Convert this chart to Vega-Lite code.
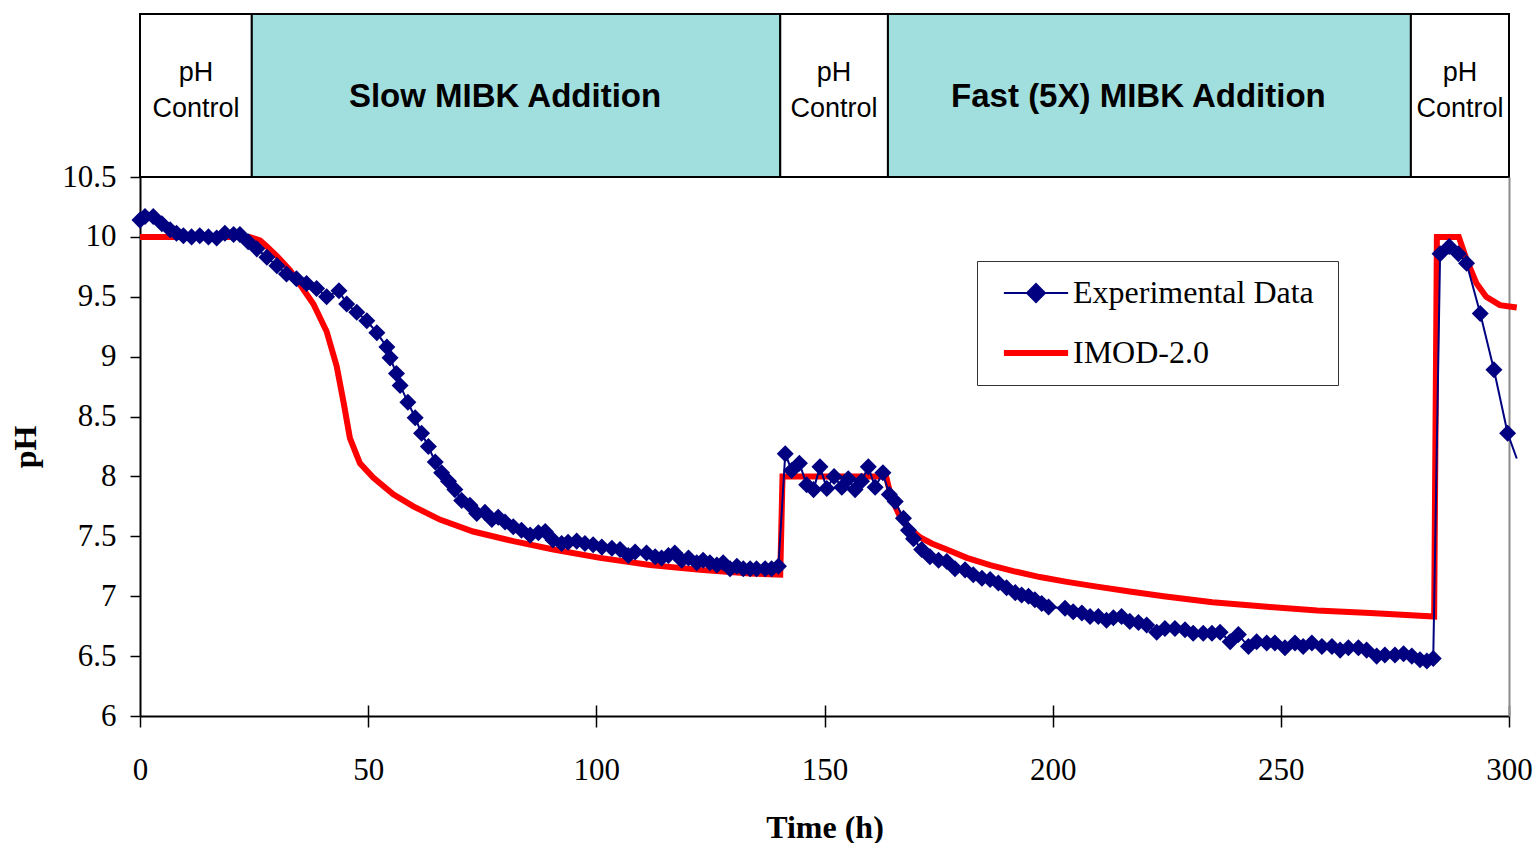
{
  "$schema": "https://vega.github.io/schema/vega-lite/v6.json",
  "background": "white",
  "autosize": {"type": "pad"},
  "padding": {"left": 9, "top": 13, "right": 0, "bottom": 0},
  "spacing": 0,
  "bounds": "flush",
  "config": {"view": {"stroke": null}},
  "resolve": {"scale": {"color": "independent", "fill": "independent"}, "legend": {"color": "independent", "fill": "independent"}},
  "vconcat": [
    {
      "width": 1369,
      "height": 163,
      "data": {"values": [
        {"label": "pH\nControl", "start": 0, "end": 24.5, "kind": "control"},
        {"label": "Slow MIBK Addition", "start": 24.5, "end": 140.3, "kind": "addition"},
        {"label": "pH\nControl", "start": 140.3, "end": 163.9, "kind": "control"},
        {"label": "Fast (5X) MIBK Addition", "start": 163.9, "end": 278.5, "kind": "addition"},
        {"label": "pH\nControl", "start": 278.5, "end": 300, "kind": "control"}
      ]},
      "transform": [{"calculate": "(datum.start + datum.end) / 2", "as": "mid"}],
      "layer": [
        {
          "mark": {"type": "rect", "stroke": "black", "strokeWidth": 2},
          "encoding": {
            "x": {"field": "start", "type": "quantitative", "scale": {"domain": [0, 300]}, "axis": null},
            "x2": {"field": "end"},
            "fill": {"field": "kind", "type": "nominal", "scale": {"domain": ["control", "addition"], "range": ["#ffffff", "#a1dfdf"]}, "legend": null}
          }
        },
        {
          "transform": [{"filter": "datum.kind === 'control'"}],
          "mark": {"type": "text", "font": "Liberation Sans", "fontSize": 27, "lineBreak": "\n", "lineHeight": 36, "dy": -23, "color": "black"},
          "encoding": {
            "x": {"field": "mid", "type": "quantitative", "scale": {"domain": [0, 300]}, "axis": null},
            "text": {"field": "label"}
          }
        },
        {
          "transform": [{"filter": "datum.kind === 'addition'"}],
          "mark": {"type": "text", "font": "Liberation Sans", "fontSize": 33, "fontWeight": "bold", "dx": -11, "dy": 1, "color": "black"},
          "encoding": {
            "x": {"field": "mid", "type": "quantitative", "scale": {"domain": [0, 300]}, "axis": null},
            "text": {"field": "label"}
          }
        }
      ]
    },
    {
      "width": 1369,
      "height": 539,
      "data": {"values": [
        {"series": "IMOD-2.0", "t": 0, "pH": 10.0},
        {"series": "IMOD-2.0", "t": 24, "pH": 10.0},
        {"series": "IMOD-2.0", "t": 26.3, "pH": 9.97},
        {"series": "IMOD-2.0", "t": 27.5, "pH": 9.93},
        {"series": "IMOD-2.0", "t": 30, "pH": 9.84},
        {"series": "IMOD-2.0", "t": 32.9, "pH": 9.72},
        {"series": "IMOD-2.0", "t": 35.1, "pH": 9.6},
        {"series": "IMOD-2.0", "t": 38, "pH": 9.44},
        {"series": "IMOD-2.0", "t": 40.9, "pH": 9.21},
        {"series": "IMOD-2.0", "t": 43.1, "pH": 8.92},
        {"series": "IMOD-2.0", "t": 44.6, "pH": 8.62},
        {"series": "IMOD-2.0", "t": 46, "pH": 8.32},
        {"series": "IMOD-2.0", "t": 48.2, "pH": 8.11},
        {"series": "IMOD-2.0", "t": 51.1, "pH": 7.99},
        {"series": "IMOD-2.0", "t": 55.5, "pH": 7.85},
        {"series": "IMOD-2.0", "t": 59.9, "pH": 7.75},
        {"series": "IMOD-2.0", "t": 65.7, "pH": 7.64},
        {"series": "IMOD-2.0", "t": 73, "pH": 7.54},
        {"series": "IMOD-2.0", "t": 81.8, "pH": 7.46},
        {"series": "IMOD-2.0", "t": 90.6, "pH": 7.39},
        {"series": "IMOD-2.0", "t": 100.8, "pH": 7.32},
        {"series": "IMOD-2.0", "t": 111.8, "pH": 7.26},
        {"series": "IMOD-2.0", "t": 122.7, "pH": 7.22},
        {"series": "IMOD-2.0", "t": 133.7, "pH": 7.19},
        {"series": "IMOD-2.0", "t": 140.3, "pH": 7.18},
        {"series": "IMOD-2.0", "t": 140.8, "pH": 8.0},
        {"series": "IMOD-2.0", "t": 163.5, "pH": 8.0},
        {"series": "IMOD-2.0", "t": 164.4, "pH": 7.86},
        {"series": "IMOD-2.0", "t": 165.5, "pH": 7.75},
        {"series": "IMOD-2.0", "t": 166.6, "pH": 7.66},
        {"series": "IMOD-2.0", "t": 168.8, "pH": 7.56},
        {"series": "IMOD-2.0", "t": 171, "pH": 7.49},
        {"series": "IMOD-2.0", "t": 173.5, "pH": 7.44},
        {"series": "IMOD-2.0", "t": 176.8, "pH": 7.39},
        {"series": "IMOD-2.0", "t": 181.2, "pH": 7.32},
        {"series": "IMOD-2.0", "t": 186.3, "pH": 7.26},
        {"series": "IMOD-2.0", "t": 191.4, "pH": 7.21},
        {"series": "IMOD-2.0", "t": 197.2, "pH": 7.16},
        {"series": "IMOD-2.0", "t": 203.1, "pH": 7.12},
        {"series": "IMOD-2.0", "t": 209.7, "pH": 7.08},
        {"series": "IMOD-2.0", "t": 216.9, "pH": 7.04},
        {"series": "IMOD-2.0", "t": 224.3, "pH": 7.0},
        {"series": "IMOD-2.0", "t": 235, "pH": 6.95},
        {"series": "IMOD-2.0", "t": 247.6, "pH": 6.91},
        {"series": "IMOD-2.0", "t": 258, "pH": 6.88},
        {"series": "IMOD-2.0", "t": 269.6, "pH": 6.86},
        {"series": "IMOD-2.0", "t": 283.6, "pH": 6.83},
        {"series": "IMOD-2.0", "t": 284.2, "pH": 10.0},
        {"series": "IMOD-2.0", "t": 289, "pH": 10.0},
        {"series": "IMOD-2.0", "t": 290.7, "pH": 9.81},
        {"series": "IMOD-2.0", "t": 292.9, "pH": 9.61},
        {"series": "IMOD-2.0", "t": 295, "pH": 9.5},
        {"series": "IMOD-2.0", "t": 298, "pH": 9.43},
        {"series": "IMOD-2.0", "t": 301.7, "pH": 9.41},
        {"series": "Experimental Data", "t": 0, "pH": 10.14},
        {"series": "Experimental Data", "t": 1.1, "pH": 10.17},
        {"series": "Experimental Data", "t": 2.9, "pH": 10.17},
        {"series": "Experimental Data", "t": 4.8, "pH": 10.11},
        {"series": "Experimental Data", "t": 6.6, "pH": 10.06},
        {"series": "Experimental Data", "t": 8.0, "pH": 10.03},
        {"series": "Experimental Data", "t": 9.5, "pH": 10.01},
        {"series": "Experimental Data", "t": 11.3, "pH": 10.0},
        {"series": "Experimental Data", "t": 13.1, "pH": 10.01},
        {"series": "Experimental Data", "t": 15.0, "pH": 10.0},
        {"series": "Experimental Data", "t": 16.8, "pH": 9.99},
        {"series": "Experimental Data", "t": 18.6, "pH": 10.03},
        {"series": "Experimental Data", "t": 20.5, "pH": 10.02},
        {"series": "Experimental Data", "t": 21.9, "pH": 10.02},
        {"series": "Experimental Data", "t": 23.7, "pH": 9.96},
        {"series": "Experimental Data", "t": 25.6, "pH": 9.9},
        {"series": "Experimental Data", "t": 27.8, "pH": 9.83},
        {"series": "Experimental Data", "t": 30.0, "pH": 9.76},
        {"series": "Experimental Data", "t": 32.1, "pH": 9.69},
        {"series": "Experimental Data", "t": 34.3, "pH": 9.65},
        {"series": "Experimental Data", "t": 36.5, "pH": 9.61},
        {"series": "Experimental Data", "t": 38.7, "pH": 9.57},
        {"series": "Experimental Data", "t": 40.9, "pH": 9.5},
        {"series": "Experimental Data", "t": 43.6, "pH": 9.55},
        {"series": "Experimental Data", "t": 45.3, "pH": 9.44},
        {"series": "Experimental Data", "t": 47.5, "pH": 9.37},
        {"series": "Experimental Data", "t": 49.7, "pH": 9.3},
        {"series": "Experimental Data", "t": 51.9, "pH": 9.2},
        {"series": "Experimental Data", "t": 54.1, "pH": 9.08},
        {"series": "Experimental Data", "t": 54.8, "pH": 8.99},
        {"series": "Experimental Data", "t": 56.2, "pH": 8.86},
        {"series": "Experimental Data", "t": 57.0, "pH": 8.76},
        {"series": "Experimental Data", "t": 58.7, "pH": 8.62},
        {"series": "Experimental Data", "t": 60.3, "pH": 8.49},
        {"series": "Experimental Data", "t": 61.7, "pH": 8.36},
        {"series": "Experimental Data", "t": 63.2, "pH": 8.25},
        {"series": "Experimental Data", "t": 64.7, "pH": 8.12},
        {"series": "Experimental Data", "t": 66.1, "pH": 8.03},
        {"series": "Experimental Data", "t": 67.6, "pH": 7.96},
        {"series": "Experimental Data", "t": 69.0, "pH": 7.89},
        {"series": "Experimental Data", "t": 70.5, "pH": 7.8},
        {"series": "Experimental Data", "t": 72.3, "pH": 7.76},
        {"series": "Experimental Data", "t": 73.8, "pH": 7.69},
        {"series": "Experimental Data", "t": 75.6, "pH": 7.7},
        {"series": "Experimental Data", "t": 77.1, "pH": 7.64},
        {"series": "Experimental Data", "t": 78.5, "pH": 7.66},
        {"series": "Experimental Data", "t": 80.0, "pH": 7.62},
        {"series": "Experimental Data", "t": 81.8, "pH": 7.58},
        {"series": "Experimental Data", "t": 83.6, "pH": 7.55},
        {"series": "Experimental Data", "t": 85.5, "pH": 7.51},
        {"series": "Experimental Data", "t": 87.3, "pH": 7.53},
        {"series": "Experimental Data", "t": 88.8, "pH": 7.54},
        {"series": "Experimental Data", "t": 90.5, "pH": 7.47},
        {"series": "Experimental Data", "t": 92.4, "pH": 7.44},
        {"series": "Experimental Data", "t": 93.8, "pH": 7.45},
        {"series": "Experimental Data", "t": 95.7, "pH": 7.46},
        {"series": "Experimental Data", "t": 97.5, "pH": 7.44},
        {"series": "Experimental Data", "t": 99.3, "pH": 7.43},
        {"series": "Experimental Data", "t": 101.2, "pH": 7.41},
        {"series": "Experimental Data", "t": 103.4, "pH": 7.4},
        {"series": "Experimental Data", "t": 105.2, "pH": 7.39},
        {"series": "Experimental Data", "t": 107.0, "pH": 7.34},
        {"series": "Experimental Data", "t": 108.5, "pH": 7.37},
        {"series": "Experimental Data", "t": 111.0, "pH": 7.36},
        {"series": "Experimental Data", "t": 112.9, "pH": 7.33},
        {"series": "Experimental Data", "t": 114.3, "pH": 7.32},
        {"series": "Experimental Data", "t": 115.8, "pH": 7.34},
        {"series": "Experimental Data", "t": 117.2, "pH": 7.36},
        {"series": "Experimental Data", "t": 118.7, "pH": 7.3},
        {"series": "Experimental Data", "t": 120.2, "pH": 7.32},
        {"series": "Experimental Data", "t": 122.0, "pH": 7.28},
        {"series": "Experimental Data", "t": 123.4, "pH": 7.3},
        {"series": "Experimental Data", "t": 124.9, "pH": 7.28},
        {"series": "Experimental Data", "t": 126.4, "pH": 7.26},
        {"series": "Experimental Data", "t": 127.8, "pH": 7.28},
        {"series": "Experimental Data", "t": 129.3, "pH": 7.23},
        {"series": "Experimental Data", "t": 130.8, "pH": 7.25},
        {"series": "Experimental Data", "t": 132.2, "pH": 7.23},
        {"series": "Experimental Data", "t": 133.7, "pH": 7.23},
        {"series": "Experimental Data", "t": 135.1, "pH": 7.23},
        {"series": "Experimental Data", "t": 137.0, "pH": 7.23},
        {"series": "Experimental Data", "t": 138.4, "pH": 7.23},
        {"series": "Experimental Data", "t": 139.9, "pH": 7.25},
        {"series": "Experimental Data", "t": 141.4, "pH": 8.19},
        {"series": "Experimental Data", "t": 142.8, "pH": 8.05},
        {"series": "Experimental Data", "t": 144.5, "pH": 8.11},
        {"series": "Experimental Data", "t": 146.1, "pH": 7.93},
        {"series": "Experimental Data", "t": 147.6, "pH": 7.89},
        {"series": "Experimental Data", "t": 149.0, "pH": 8.08},
        {"series": "Experimental Data", "t": 150.5, "pH": 7.9},
        {"series": "Experimental Data", "t": 152.1, "pH": 8.0},
        {"series": "Experimental Data", "t": 153.8, "pH": 7.91},
        {"series": "Experimental Data", "t": 155.2, "pH": 7.98},
        {"series": "Experimental Data", "t": 156.7, "pH": 7.89},
        {"series": "Experimental Data", "t": 158.1, "pH": 7.96},
        {"series": "Experimental Data", "t": 159.6, "pH": 8.08},
        {"series": "Experimental Data", "t": 161.1, "pH": 7.91},
        {"series": "Experimental Data", "t": 162.8, "pH": 8.03},
        {"series": "Experimental Data", "t": 164.2, "pH": 7.85},
        {"series": "Experimental Data", "t": 165.5, "pH": 7.79},
        {"series": "Experimental Data", "t": 167.3, "pH": 7.65},
        {"series": "Experimental Data", "t": 168.4, "pH": 7.55},
        {"series": "Experimental Data", "t": 169.5, "pH": 7.48},
        {"series": "Experimental Data", "t": 171.3, "pH": 7.39},
        {"series": "Experimental Data", "t": 173.1, "pH": 7.33},
        {"series": "Experimental Data", "t": 175.0, "pH": 7.3},
        {"series": "Experimental Data", "t": 176.8, "pH": 7.29},
        {"series": "Experimental Data", "t": 178.6, "pH": 7.23},
        {"series": "Experimental Data", "t": 180.8, "pH": 7.22},
        {"series": "Experimental Data", "t": 182.6, "pH": 7.18},
        {"series": "Experimental Data", "t": 184.5, "pH": 7.15},
        {"series": "Experimental Data", "t": 186.3, "pH": 7.14},
        {"series": "Experimental Data", "t": 188.1, "pH": 7.11},
        {"series": "Experimental Data", "t": 189.9, "pH": 7.07},
        {"series": "Experimental Data", "t": 191.8, "pH": 7.03},
        {"series": "Experimental Data", "t": 193.2, "pH": 7.01},
        {"series": "Experimental Data", "t": 194.7, "pH": 7.0},
        {"series": "Experimental Data", "t": 196.1, "pH": 6.97},
        {"series": "Experimental Data", "t": 197.6, "pH": 6.94},
        {"series": "Experimental Data", "t": 199.1, "pH": 6.91},
        {"series": "Experimental Data", "t": 202.7, "pH": 6.9},
        {"series": "Experimental Data", "t": 204.5, "pH": 6.87},
        {"series": "Experimental Data", "t": 206.4, "pH": 6.86},
        {"series": "Experimental Data", "t": 208.2, "pH": 6.83},
        {"series": "Experimental Data", "t": 210.0, "pH": 6.83},
        {"series": "Experimental Data", "t": 211.8, "pH": 6.8},
        {"series": "Experimental Data", "t": 213.3, "pH": 6.82},
        {"series": "Experimental Data", "t": 215.1, "pH": 6.83},
        {"series": "Experimental Data", "t": 216.9, "pH": 6.79},
        {"series": "Experimental Data", "t": 218.8, "pH": 6.78},
        {"series": "Experimental Data", "t": 220.6, "pH": 6.76},
        {"series": "Experimental Data", "t": 222.8, "pH": 6.7},
        {"series": "Experimental Data", "t": 224.6, "pH": 6.73},
        {"series": "Experimental Data", "t": 226.8, "pH": 6.73},
        {"series": "Experimental Data", "t": 229.0, "pH": 6.72},
        {"series": "Experimental Data", "t": 230.8, "pH": 6.69},
        {"series": "Experimental Data", "t": 233.0, "pH": 6.69},
        {"series": "Experimental Data", "t": 234.9, "pH": 6.69},
        {"series": "Experimental Data", "t": 236.7, "pH": 6.7},
        {"series": "Experimental Data", "t": 238.9, "pH": 6.62},
        {"series": "Experimental Data", "t": 240.7, "pH": 6.68},
        {"series": "Experimental Data", "t": 242.9, "pH": 6.58},
        {"series": "Experimental Data", "t": 244.7, "pH": 6.62},
        {"series": "Experimental Data", "t": 246.9, "pH": 6.61},
        {"series": "Experimental Data", "t": 248.7, "pH": 6.61},
        {"series": "Experimental Data", "t": 250.9, "pH": 6.57},
        {"series": "Experimental Data", "t": 253.1, "pH": 6.61},
        {"series": "Experimental Data", "t": 254.9, "pH": 6.58},
        {"series": "Experimental Data", "t": 256.8, "pH": 6.61},
        {"series": "Experimental Data", "t": 259.0, "pH": 6.58},
        {"series": "Experimental Data", "t": 261.2, "pH": 6.58},
        {"series": "Experimental Data", "t": 263.0, "pH": 6.55},
        {"series": "Experimental Data", "t": 264.8, "pH": 6.57},
        {"series": "Experimental Data", "t": 267.0, "pH": 6.57},
        {"series": "Experimental Data", "t": 268.8, "pH": 6.55},
        {"series": "Experimental Data", "t": 271.0, "pH": 6.5},
        {"series": "Experimental Data", "t": 272.8, "pH": 6.51},
        {"series": "Experimental Data", "t": 275.0, "pH": 6.51},
        {"series": "Experimental Data", "t": 276.9, "pH": 6.52},
        {"series": "Experimental Data", "t": 278.7, "pH": 6.5},
        {"series": "Experimental Data", "t": 280.5, "pH": 6.47},
        {"series": "Experimental Data", "t": 282.0, "pH": 6.46},
        {"series": "Experimental Data", "t": 283.4, "pH": 6.48},
        {"series": "Experimental Data", "t": 284.9, "pH": 9.86},
        {"series": "Experimental Data", "t": 286.9, "pH": 9.92},
        {"series": "Experimental Data", "t": 288.9, "pH": 9.86},
        {"series": "Experimental Data", "t": 290.7, "pH": 9.78},
        {"series": "Experimental Data", "t": 293.7, "pH": 9.36},
        {"series": "Experimental Data", "t": 296.7, "pH": 8.89},
        {"series": "Experimental Data", "t": 299.7, "pH": 8.36},
        {"series": "Experimental Data", "t": 301.7, "pH": 8.15}
      ]},
      "resolve": {"axis": {"x": "independent", "y": "independent"}},
      "layer": [
        {
          "transform": [{"filter": "datum.series === 'IMOD-2.0'"}],
          "mark": {"type": "line", "strokeWidth": 6},
          "encoding": {
            "x": {"field": "t", "type": "quantitative", "scale": {"domain": [0, 300]},
              "axis": {"orient": "bottom", "values": [0, 50, 100, 150, 200, 250, 300], "format": "d", "grid": false,
                "tickSize": 11, "tickColor": "black", "tickWidth": 1.5, "domainColor": "black", "domainWidth": 2,
                "labelFont": "Liberation Serif", "labelFontSize": 31, "labelColor": "black", "labelPadding": 28,
                "labelFlush": false, "labelOverlap": false,
                "title": "Time (h)", "titleFont": "Liberation Serif", "titleFontSize": 32, "titleFontWeight": "bold",
                "titleColor": "black", "titlePadding": 27}},
            "y": {"field": "pH", "type": "quantitative", "scale": {"domain": [6, 10.5]},
              "axis": {"orient": "left", "values": [6, 6.5, 7, 7.5, 8, 8.5, 9, 9.5, 10, 10.5], "format": "~g", "grid": false,
                "tickSize": 10, "tickColor": "black", "tickWidth": 1.5, "domainColor": "black", "domainWidth": 2,
                "labelFont": "Liberation Serif", "labelFontSize": 31, "labelColor": "black", "labelPadding": 14,
                "labelFlush": false, "labelOverlap": false,
                "title": "pH", "titleFont": "Liberation Serif", "titleFontSize": 32, "titleFontWeight": "bold",
                "titleColor": "black", "titlePadding": 19}},
            "color": {"field": "series", "type": "nominal",
              "scale": {"domain": ["Experimental Data", "IMOD-2.0"], "range": ["#000080", "#ff0000"]},
              "legend": {
                "orient": "none", "legendX": 837, "legendY": 84, "title": "\u00a0", "titleOrient": "right",
                "titlePadding": 8, "titleFontSize": 8,
                "symbolSize": 3600, "symbolOffset": 27, "labelOffset": 21,
                "labelFont": "Liberation Serif", "labelFontSize": 32, "labelColor": "black", "labelLimit": 500,
                "padding": 16, "rowPadding": 28, "strokeColor": "#333333", "fillColor": "white",
                "encode": {"symbols": {"update": {
                  "shape": {"signal": "datum.value === 'IMOD-2.0' ? 'M-1.07,0H1.07' : 'M-1.07,0H1.07M0,-0.3L0.3,0L0,0.3L-0.3,0Z'"},
                  "strokeWidth": {"signal": "datum.value === 'IMOD-2.0' ? 6 : 2"},
                  "fill": {"signal": "datum.value === 'IMOD-2.0' ? 'transparent' : '#000080'"},
                  "stroke": {"signal": "datum.value === 'IMOD-2.0' ? '#ff0000' : '#000080'"}
                }}}
              }}
          }
        },
        {
          "transform": [{"filter": "datum.series === 'Experimental Data'"}],
          "mark": {"type": "line", "strokeWidth": 2},
          "encoding": {
            "x": {"field": "t", "type": "quantitative", "scale": {"domain": [0, 300]},
              "axis": {"orient": "top", "offset": -539, "values": [50, 100, 150, 200, 250, 300], "grid": false,
                "labels": false, "domain": false, "title": null, "tickSize": 11, "tickColor": "black", "tickWidth": 1.5}},
            "y": {"field": "pH", "type": "quantitative", "scale": {"domain": [6, 10.5]},
              "axis": {"orient": "right", "grid": false, "labels": false, "ticks": false, "title": null,
                "domainColor": "#8c8c8c", "domainWidth": 2}},
            "color": {"field": "series", "type": "nominal", "legend": null}
          }
        },
        {
          "transform": [{"filter": "datum.series === 'Experimental Data' && datum.t <= 300"}],
          "mark": {"type": "point", "shape": "diamond", "filled": true, "size": 290, "opacity": 1},
          "encoding": {
            "x": {"field": "t", "type": "quantitative", "scale": {"domain": [0, 300]}, "axis": null},
            "y": {"field": "pH", "type": "quantitative", "scale": {"domain": [6, 10.5]}, "axis": null},
            "color": {"field": "series", "type": "nominal", "legend": null}
          }
        }
      ]
    }
  ]
}
